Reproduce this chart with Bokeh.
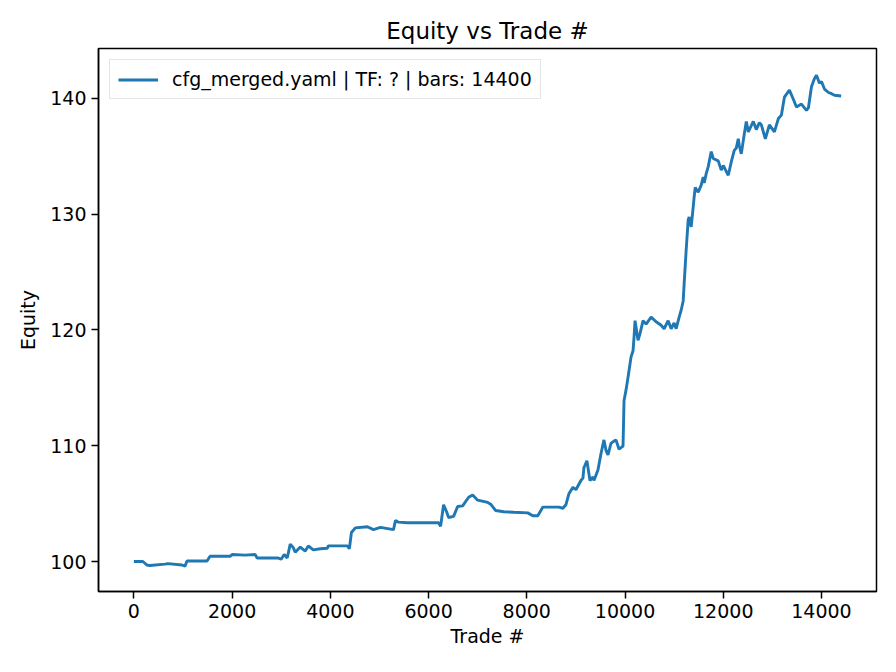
from bokeh.plotting import figure
from bokeh.models import Range1d, FixedTicker, Legend, LegendItem
from bokeh.embed import file_html
from bokeh.resources import INLINE

# Trade number (x) and equity (y)
trade_num = [
    0, 184, 265, 327, 633, 694, 980, 1041, 1082, 1490, 1551, 1959, 2000, 2265, 2469,
    2510, 2939, 3000, 3061, 3122, 3184, 3245, 3286, 3388, 3490, 3551, 3653, 3796, 3939,
    3959, 4347, 4388, 4429, 4510, 4755, 4878, 5020, 5286, 5327, 5388, 5571, 6204, 6245,
    6306, 6367, 6408, 6510, 6592, 6694, 6816, 6898, 7000, 7204, 7265, 7367, 7531, 7735,
    8020, 8122, 8224, 8327, 8653, 8735, 8796, 8857, 8939, 9000, 9102, 9143, 9163, 9224,
    9286, 9347, 9367, 9449, 9510, 9571, 9612, 9653, 9714, 9776, 9816, 9878, 9939, 9959,
    9980, 10020, 10061, 10082, 10122, 10163, 10184, 10204, 10265, 10306, 10367, 10429,
    10531, 10633, 10735, 10796, 10878, 10939, 11000, 11041, 11102, 11143, 11184, 11204,
    11245, 11286, 11306, 11347, 11388, 11408, 11429, 11490, 11551, 11592, 11612, 11653,
    11694, 11755, 11796, 11898, 11959, 12000, 12102, 12163, 12224, 12265, 12306, 12327,
    12367, 12429, 12469, 12510, 12612, 12673, 12735, 12776, 12857, 12939, 13041, 13122,
    13184, 13245, 13347, 13429, 13490, 13592, 13694, 13735, 13796, 13857, 13898, 13959,
    14000, 14061, 14143, 14204, 14265, 14400,
]
equity = [
    100.0, 100.0, 99.7, 99.65, 99.77, 99.82, 99.7, 99.6, 100.05, 100.05, 100.45, 100.45,
    100.6, 100.55, 100.6, 100.3, 100.3, 100.2, 100.6, 100.3, 101.5, 101.2, 100.8, 101.25,
    100.9, 101.35, 101.0, 101.1, 101.15, 101.35, 101.35, 101.1, 102.5, 102.9, 103.0,
    102.75, 102.95, 102.75, 103.55, 103.4, 103.35, 103.35, 103.05, 104.9, 104.3, 103.8,
    103.9, 104.75, 104.8, 105.55, 105.75, 105.3, 105.1, 104.95, 104.4, 104.3, 104.25,
    104.2, 103.95, 103.95, 104.7, 104.7, 104.6, 104.9, 105.85, 106.4, 106.2, 107.0,
    107.2, 108.1, 108.7, 107.0, 107.3, 107.0, 107.9, 109.3, 110.5, 109.6, 109.2, 110.2,
    110.4, 110.5, 109.7, 109.9, 109.95, 113.9, 114.8, 115.9, 116.5, 117.65, 118.2, 119.4,
    120.8, 119.1, 119.7, 120.8, 120.5, 121.1, 120.7, 120.4, 120.1, 120.8, 120.1, 120.6,
    120.1, 121.1, 121.7, 122.5, 124.0, 126.9, 129.5, 129.75, 128.9, 130.6, 131.5, 132.3,
    131.9, 132.5, 133.2, 132.7, 133.5, 134.1, 135.4, 134.8, 134.6, 133.8, 134.2, 133.35,
    134.5, 135.5, 135.7, 136.5, 135.9, 135.2, 136.95, 138.0, 137.1, 138.0, 137.3, 137.9,
    137.7, 136.5, 137.7, 137.1, 138.25, 138.55, 140.1, 140.7, 139.9, 139.25, 139.5,
    138.95, 139.2, 141.0, 141.7, 142.0, 141.3, 141.45, 140.8, 140.5, 140.4, 140.26, 140.2,
]
x_ticks = [0, 2000, 4000, 6000, 8000, 10000, 12000, 14000]
y_ticks = [100, 110, 120, 130, 140]
series_label = "cfg_merged.yaml | TF: ? | bars: 14400"

FONT = "DejaVu Sans"

p = figure(
    width=884, height=664,
    output_backend="svg", toolbar_location=None,
    x_range=Range1d(-720, 15120), y_range=Range1d(97.41, 144.3),
    title="Equity vs Trade #",
    min_border_left=98, min_border_right=8, min_border_top=48, min_border_bottom=73,
)
p.title.align = "center"
p.title.text_font = FONT
p.title.text_font_size = "23px"
p.title.text_font_style = "normal"
p.title.text_color = "black"

r = p.line(trade_num, equity, line_color="#1f77b4", line_width=2.9)

p.xgrid.visible = False
p.ygrid.visible = False
p.outline_line_color = "black"
p.outline_line_width = 1.5
p.background_fill_color = "white"
p.border_fill_color = "white"

p.xaxis.ticker = FixedTicker(ticks=x_ticks)
p.yaxis.ticker = FixedTicker(ticks=y_ticks)
for ax in (p.xaxis[0], p.yaxis[0]):
    ax.minor_tick_line_color = None
    ax.major_tick_out = 7
    ax.major_tick_in = 0
    ax.major_tick_line_width = 1.5
    ax.major_tick_line_color = "black"
    ax.axis_line_color = "black"
    ax.axis_line_width = 1.5
    ax.major_label_text_font = FONT
    ax.major_label_text_font_size = "19px"
    ax.major_label_text_color = "black"
    ax.axis_label_text_font = FONT
    ax.axis_label_text_font_size = "19px"
    ax.axis_label_text_font_style = "normal"
    ax.axis_label_text_color = "black"
p.xaxis.axis_label = "Trade #"
p.yaxis.axis_label = "Equity"
p.xaxis.major_label_standoff = 5
p.yaxis.major_label_standoff = 5
p.xaxis.axis_label_standoff = 4
p.yaxis.axis_label_standoff = 8

legend = Legend(items=[LegendItem(label=series_label, renderers=[r])], location="top_left")
legend.label_text_font = FONT
legend.label_text_font_size = "19px"
legend.label_text_color = "black"
legend.glyph_width = 40
legend.glyph_height = 19
legend.label_standoff = 14
legend.padding = 8
legend.margin = 11
legend.spacing = 0
legend.border_line_color = "#cccccc"
legend.border_line_width = 1.5
legend.background_fill_alpha = 0.8
p.add_layout(legend)

open("out.html", "w").write(file_html(p, INLINE))
